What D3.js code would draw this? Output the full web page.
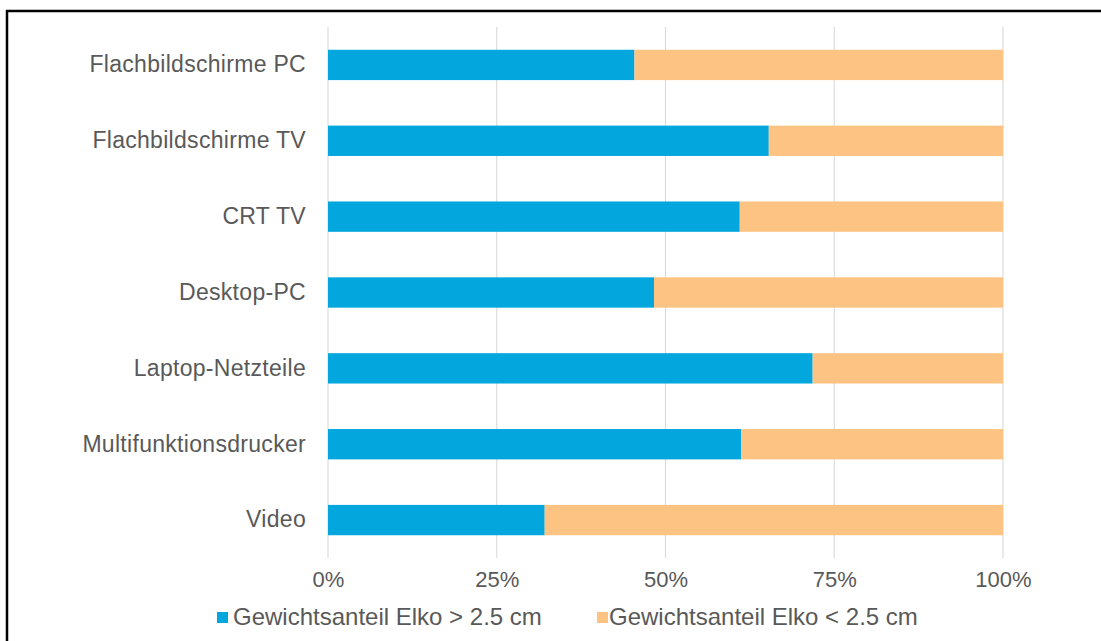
<!DOCTYPE html>
<html>
<head>
<meta charset="utf-8">
<script src="https://cdn.jsdelivr.net/npm/d3@7"></script>
<style>
  html, body { margin: 0; padding: 0; background: #fff; }
  svg { display: block; }
  text { font-family: "Liberation Sans", Arial, Helvetica, sans-serif; fill: #595959; }
</style>
</head>
<body>
<svg id="chart" width="1101" height="641"></svg>
<script>
// Product groups, top to bottom
const categories = [
  "Flachbildschirme PC",
  "Flachbildschirme TV",
  "CRT TV",
  "Desktop-PC",
  "Laptop-Netzteile",
  "Multifunktionsdrucker",
  "Video"
];
// Weight share of electrolytic capacitors > 2.5 cm (percent)
const shareLarge = [45.4, 65.3, 61.0, 48.3, 71.8, 61.2, 32.1];
// Weight share of electrolytic capacitors < 2.5 cm (percent)
const shareSmall = [54.6, 34.7, 39.0, 51.7, 28.2, 38.8, 67.9];
const seriesNames = ["Gewichtsanteil Elko > 2.5 cm", "Gewichtsanteil Elko < 2.5 cm"];
const seriesColors = ["#03a6dd", "#fdc382"];
const tickValues = [0, 25, 50, 75, 100];

const svg = d3.select("#chart");
const font = "'Liberation Sans', Arial, sans-serif";

// frame lines (top and left)
svg.append("line").attr("x1", 6).attr("x2", 1101).attr("y1", 11).attr("y2", 11)
  .attr("stroke", "#000").attr("stroke-width", 2.5);
svg.append("line").attr("x1", 7).attr("x2", 7).attr("y1", 10).attr("y2", 641)
  .attr("stroke", "#000").attr("stroke-width", 2.5);

const x = d3.scaleLinear().domain([0, 100]).range([328, 1003]);
const y = d3.scaleBand().domain(categories).range([27, 558])
  .paddingInner(0.6).paddingOuter(0.3);

// vertical gridlines
svg.append("g").selectAll("line").data(tickValues).join("line")
  .attr("x1", d => x(d)).attr("x2", d => x(d))
  .attr("y1", 27).attr("y2", 558)
  .attr("stroke", "#dcdcdc").attr("stroke-width", 1.2);

// stacked bars
const rows = categories.map((c, i) => ({ c, a: shareLarge[i], b: shareSmall[i] }));
const stack = d3.stack().keys(["a", "b"])(rows);
svg.append("g").selectAll("g").data(stack).join("g")
  .attr("fill", (d, i) => seriesColors[i])
  .selectAll("rect").data(d => d).join("rect")
  .attr("x", d => x(d[0]))
  .attr("width", d => x(d[1]) - x(d[0]))
  .attr("y", d => y(d.data.c))
  .attr("height", y.bandwidth());

// category axis
const yAxis = svg.append("g").attr("transform", "translate(328,0)")
  .call(d3.axisLeft(y).tickSize(0).tickPadding(22));
yAxis.select(".domain").remove();
yAxis.selectAll("text").attr("font-size", 23).style("font-family", font)
  .style("letter-spacing", "0.3px").attr("fill", "#595959");

// percentage axis
const xAxis = svg.append("g").attr("transform", "translate(0,558)")
  .call(d3.axisBottom(x).tickValues(tickValues).tickFormat(d => d + "%").tickSize(0).tickPadding(13));
xAxis.select(".domain").remove();
xAxis.selectAll("text").attr("font-size", 22).style("font-family", font).attr("fill", "#595959");

// legend
const legendBox = [217, 597];
const legendText = [233, 609];
const legend = svg.append("g").selectAll("g").data(seriesNames).join("g");
legend.append("rect").attr("x", (d, i) => legendBox[i]).attr("y", 612).attr("width", 11).attr("height", 11)
  .attr("fill", (d, i) => seriesColors[i]);
legend.append("text").attr("x", (d, i) => legendText[i]).attr("y", 617).attr("dy", "0.35em")
  .attr("font-size", 24).text(d => d);
</script>
</body>
</html>
